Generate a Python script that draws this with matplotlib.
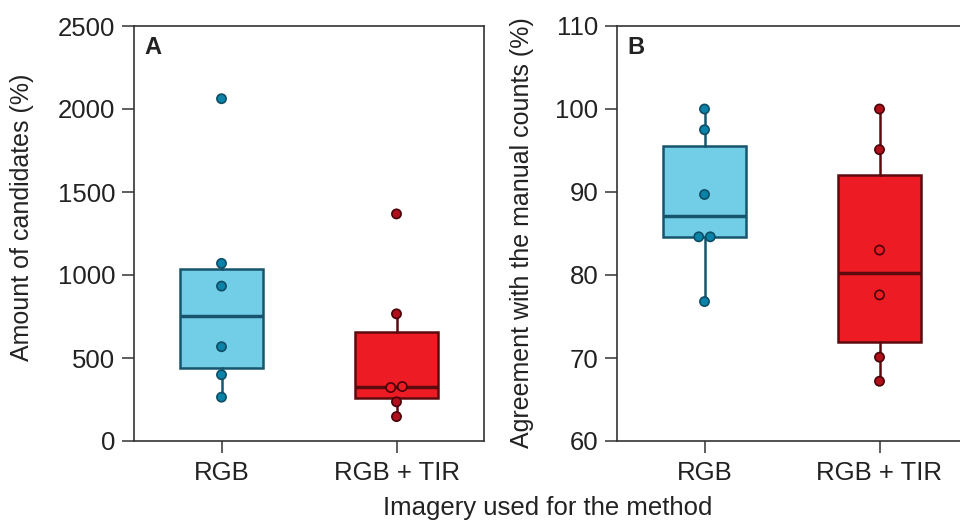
"""Box plots of candidate amounts and agreement with manual counts, RGB vs RGB + TIR."""

import matplotlib

matplotlib.use("Agg")
import matplotlib.pyplot as plt
import numpy as np

plt.rcParams["font.family"] = ["Liberation Sans", "DejaVu Sans"]

# Data
categories = ["RGB", "RGB + TIR"]

candidates_rgb = [264, 399, 568, 933, 1070, 2062]
candidates_tir = [147, 236, 322, 328, 766, 1368]

agreement_rgb = [76.8, 84.6, 84.6, 89.7, 97.5, 100.0]
agreement_tir = [67.2, 70.1, 77.6, 83.0, 95.1, 100.0]

# Colours: (box fill, box edge, point fill, point edge)
BLUE = ("#72CDE6", "#17556E", "#0B82A8", "#0E4F66")
RED = ("#ED1C24", "#5C0A0E", "#B0101C", "#4A0008")
TEXT = "#222222"

W, H, DPI = 960, 523, 100


def spread(values: list[float], tol: float) -> np.ndarray:
    """Small horizontal offsets for points that sit on the same height."""
    vals = np.asarray(values, dtype=float)
    offs = np.zeros_like(vals)
    used = np.zeros(len(vals), dtype=bool)
    for i in range(len(vals)):
        if used[i]:
            continue
        group = [j for j in range(len(vals)) if not used[j] and abs(vals[j] - vals[i]) <= tol]
        if len(group) > 1:
            shifts = np.linspace(-0.033, 0.033, len(group))
            for j, s in zip(group, shifts):
                offs[j] = s
        for j in group:
            used[j] = True
    return offs


def draw_panel(ax, groups, colours, ylim, yticks, letter, tol):
    """Draw boxes plus individual points on one axis."""
    positions = np.arange(1, len(groups) + 1)
    for pos, vals, (fill, edge, pfill, pedge) in zip(positions, groups, colours):
        ax.boxplot(
            [vals],
            positions=[pos],
            widths=0.47,
            patch_artist=True,
            showfliers=False,
            showcaps=False,
            whis=1.5,
            boxprops={"facecolor": fill, "edgecolor": edge, "linewidth": 1.8},
            medianprops={"color": edge, "linewidth": 2.5},
            whiskerprops={"color": edge, "linewidth": 1.8},
            zorder=2,
        )
        q1, q3 = np.percentile(vals, [25, 75])
        v = np.asarray(vals, dtype=float)
        # red points inside the box show the box colour through them
        if fill == RED[0]:
            faces = [fill if q1 < y < q3 else pfill for y in v]
        else:
            faces = [pfill] * len(v)
        ax.scatter(
            pos + spread(vals, tol),
            v,
            s=44,
            c=faces,
            edgecolors=pedge,
            linewidths=1.2,
            zorder=3,
        )

    ax.set_xlim(0.5, 2.5)
    ax.set_ylim(*ylim)
    ax.set_yticks(yticks)
    ax.set_xticks(positions)
    ax.set_xticklabels(categories)
    ax.tick_params(axis="both", length=8.5, width=1.1, color="#333333",
                   labelsize=18.5, labelcolor=TEXT)
    ax.tick_params(axis="x", pad=6)
    ax.tick_params(axis="y", pad=5)
    for sp in ax.spines.values():
        sp.set_linewidth(1.2)
        sp.set_color("#333333")
    ax.text(0.03, 0.975, letter, transform=ax.transAxes, fontsize=17, fontweight="bold",
            va="top", ha="left", color=TEXT)


fig = plt.figure(figsize=(W / DPI, H / DPI), dpi=DPI)
ax_a = fig.add_axes([134 / W, 1 - 441 / H, 350 / W, 415 / H])
ax_b = fig.add_axes([617 / W, 1 - 441 / H, 350 / W, 415 / H])

draw_panel(
    ax_a,
    [candidates_rgb, candidates_tir],
    [BLUE, RED],
    (0, 2500),
    np.arange(0, 2501, 500),
    "A",
    tol=10,
)
draw_panel(
    ax_b,
    [agreement_rgb, agreement_tir],
    [BLUE, RED],
    (60, 110),
    np.arange(60, 111, 10),
    "B",
    tol=0.2,
)

fig.text(22 / W, 1 - 217 / H, "Amount of candidates (%)", rotation=90, fontsize=18,
         ha="center", va="center", color=TEXT)
fig.text(522 / W, 1 - 233 / H, "Agreement with the manual counts (%)", rotation=90,
         fontsize=18, ha="center", va="center", color=TEXT)
fig.text(548 / W, 1 - 508 / H, "Imagery used for the method", fontsize=18.5,
         ha="center", va="center", color=TEXT)

fig.savefig("out.png", dpi=DPI)
